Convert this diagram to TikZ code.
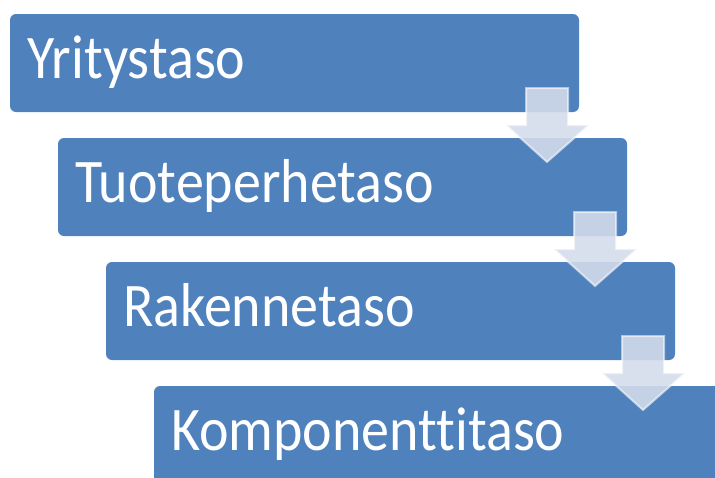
\documentclass[tikz,border=0pt]{standalone}
\usepackage{fontspec}
\setmainfont[Ligatures=NoCommon]{Carlito}
\definecolor{boxblue}{RGB}{79,129,189}
\definecolor{arrowfill}{RGB}{212,220,235}
\tikzset{
  levelbox/.style={fill=boxblue, draw=none, rounded corners=6pt},
  leveltext/.style={anchor=base west, text=white, inner sep=0pt, font=\fontsize{62}{62}\selectfont},
  downarrow/.style={fill=arrowfill, fill opacity=0.89, draw=white, draw opacity=0.55, line width=2pt, line join=miter}
}
\newcommand{\squeeze}[1]{\scalebox{0.903}[1]{#1}}
\begin{document}
\begin{tikzpicture}[x=1pt,y=-1pt]
\useasboundingbox (0,0) rectangle (715,477);
\clip (0,0) rectangle (715,477);
% boxes
\foreach \i/\t in {0/Yritystaso,1/Tuoteperhetaso,2/Rakennetaso,3/Komponenttitaso}{
  \path[levelbox] ({10+48*\i},{14+124*\i}) rectangle ({579+48*\i},{112+124*\i});
  \node[leveltext] (t\i) at ({27+48*\i},{78+124*\i}) {\squeeze{\t}};
}
% arrows
\foreach \i in {0,1,2}{
  \begin{scope}[shift={({48*\i},{124*\i})}]
  \path[downarrow] (526,88) -- (568,88) -- (568,125) -- (589,125) -- (547,162) -- (506,125) -- (526,125) -- cycle;
  \end{scope}
}
\end{tikzpicture}
\end{document}
